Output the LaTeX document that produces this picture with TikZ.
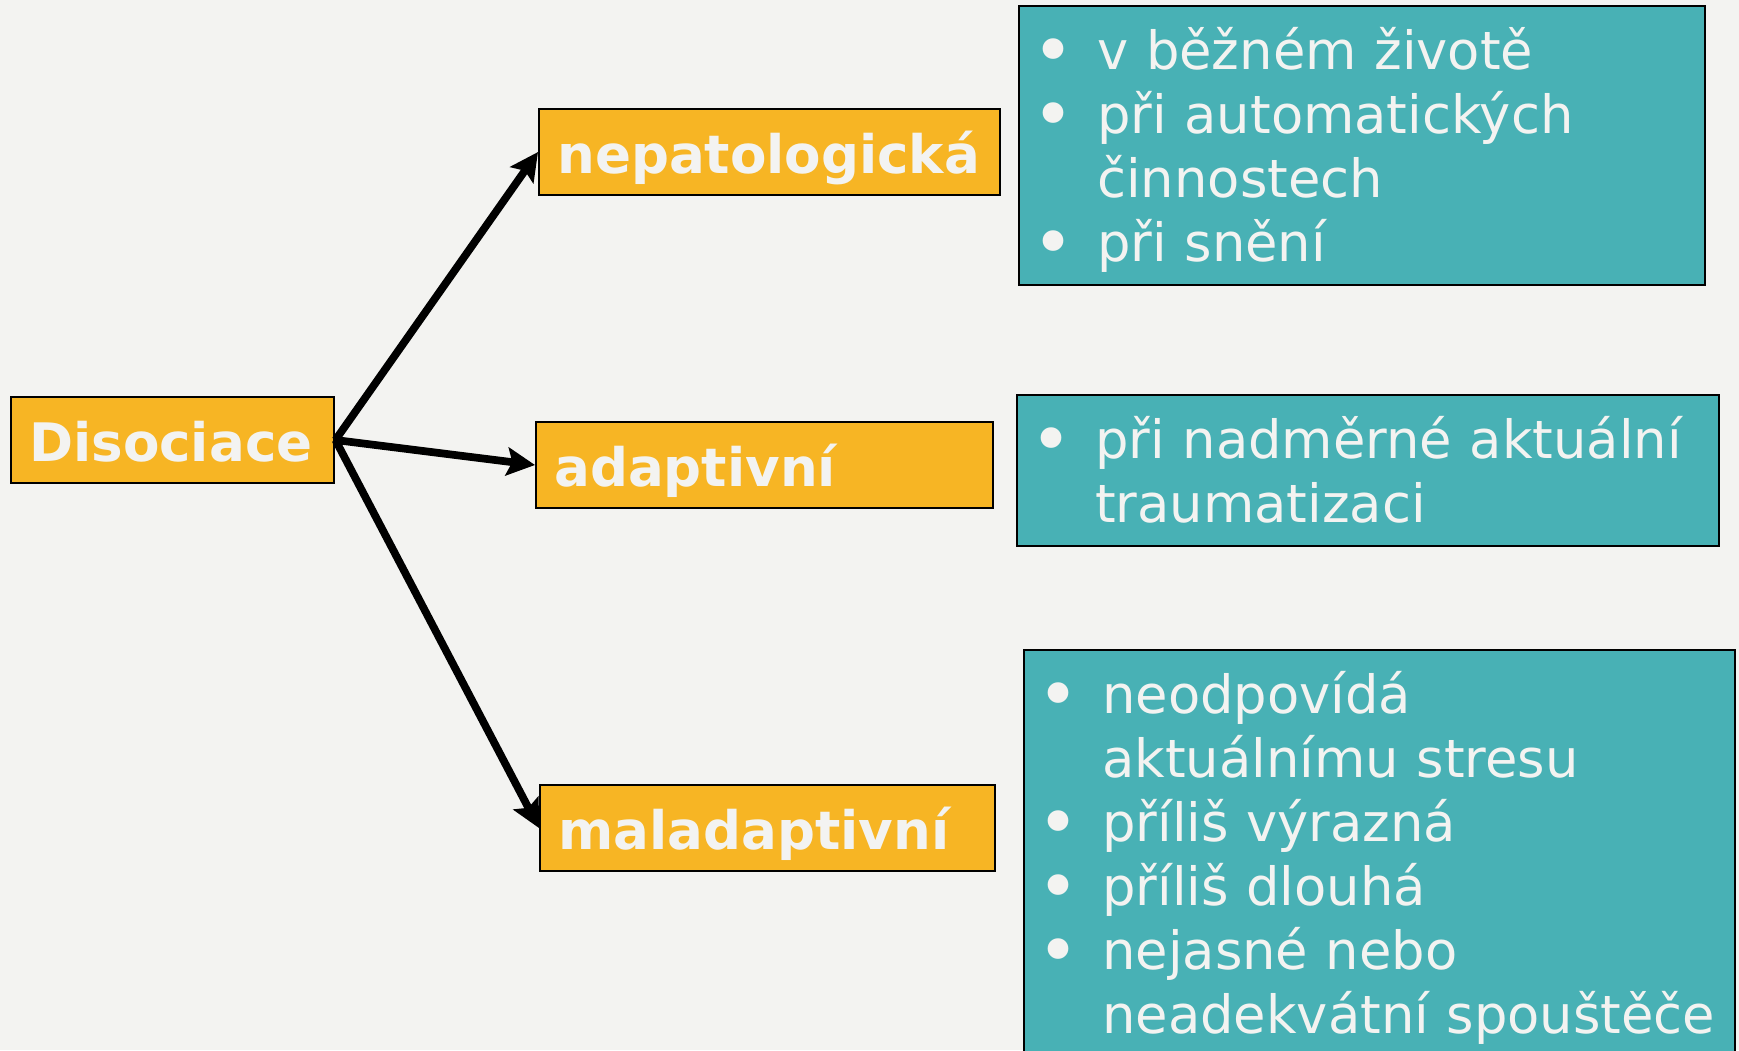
\documentclass[tikz,border=0pt]{standalone}
\usepackage{fontspec}
\usepackage{graphicx}
\setmainfont{DejaVu Sans}
\usetikzlibrary{arrows.meta}
\definecolor{bgray}{RGB}{243,243,241}
\definecolor{dorange}{RGB}{247,181,36}
\definecolor{dteal}{RGB}{72,177,181}
\newcommand{\bul}[1]{\makebox[0.68cm][c]{\smash{\raisebox{-0.06cm}{\scalebox{1.35}{\textbullet}}}}\hspace{0.10cm}\mbox{#1}\par}
\newcommand{\cont}[1]{\makebox[0.78cm]{}\mbox{#1}\par}
\newcommand{\fst}{\rule{0pt}{0.63cm}}
\newcommand{\lst}{\rule[-0.24cm]{0pt}{0.24cm}}
\begin{document}
\begin{tikzpicture}[ob/.style={draw,line width=0.7pt,fill=dorange,text=bgray,anchor=west,inner xsep=0.18cm,minimum height=0.86cm,text height=0.43cm,text depth=0pt,align=left,font=\fontsize{15.1}{18}\selectfont\bfseries},tb/.style={draw,line width=0.7pt,fill=dteal,text=bgray,anchor=north west,inner sep=0pt,font=\fontsize{15}{18.2}\selectfont},ar/.style={line width=2.2pt,-{Stealth[length=8pt,width=8pt,inset=1.5pt]}}]
\path[use as bounding box,fill=bgray] (0,0) rectangle (17.39,-10.5);

\node[ob,text width=2.87cm] (dis) at (0.10,-4.40) {Disociace};
\node[ob,text width=4.25cm] (nepat) at (5.38,-1.52) {nepatologická};
\node[ob,text width=4.21cm] (adapt) at (5.35,-4.65) {adaptivní};
\node[ob,text width=4.19cm] (malad) at (5.39,-8.28) {maladaptivní};

\node[tb,text width=6.86cm] (nepatlist) at (10.18,-0.05) {\bul{\fst v běžném životě}\bul{při automatických}\cont{činnostech}\bul{při snění\lst}};
\node[tb,text width=7.02cm] (adaptlist) at (10.16,-3.94) {\bul{\fst při nadměrné aktuální}\cont{traumatizaci\lst}};
\node[tb,text width=7.11cm] (maladlist) at (10.23,-6.49) {\bul{\fst neodpovídá}\cont{aktuálnímu stresu}\bul{příliš výrazná}\bul{příliš dlouhá}\bul{nejasné nebo}\cont{neadekvátní spouštěče\lst}};

\draw[ar] (dis.east) -- (nepat.west);
\draw[ar] (dis.east) -- (adapt.west);
\draw[ar] (dis.east) -- (malad.west);

\end{tikzpicture}
\end{document}
